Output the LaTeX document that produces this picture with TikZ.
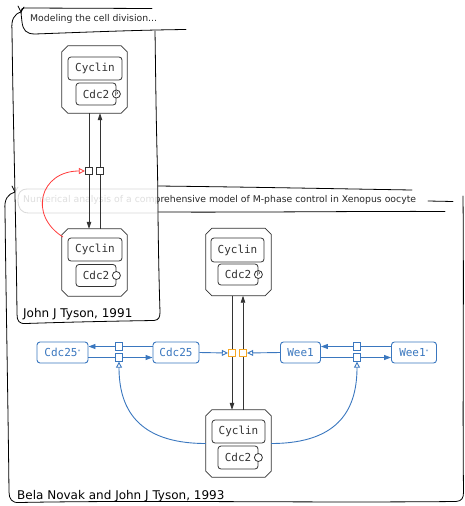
\documentclass[tikz,border=0pt]{standalone}
\usepackage{fontspec}
\setmainfont{DejaVu Sans}
\setmonofont{DejaVu Sans Mono}
\usetikzlibrary{arrows.meta}

\definecolor{inkgray}{HTML}{333333}
\definecolor{sbgnblue}{HTML}{3A77BF}
\definecolor{sbgnorange}{HTML}{F5A623}
\definecolor{sbgnred}{HTML}{FF3B3B}

\tikzset{
  sketch/.style={draw=black, line width=0.8pt, line cap=round, line join=round},
  complexbox/.style={rectangle, draw=none, minimum width=65pt, minimum height=67pt,
    inner sep=0pt},
  complexline/.style={draw=inkgray, line width=0.8pt, fill=white},
  protein/.style={rectangle, rounded corners=3pt, draw=inkgray, line width=0.8pt,
    fill=white, text=inkgray, inner sep=0pt,
    font=\ttfamily\fontsize{11}{12}\selectfont},
  statemark/.style={circle, draw=inkgray, line width=0.8pt, fill=white,
    inner sep=0pt, minimum size=8pt, text=inkgray, font=\fontsize{6}{6}\selectfont},
  procsq/.style={rectangle, draw=inkgray, line width=0.8pt, fill=white,
    minimum size=7.5pt, inner sep=0pt},
  bluenode/.style={rectangle, rounded corners=3pt, draw=sbgnblue, line width=0.9pt,
    fill=white, text=sbgnblue, inner sep=0pt, minimum height=21pt,
    font=\ttfamily\fontsize{11}{12}\selectfont},
  bluesq/.style={procsq, draw=sbgnblue},
  orangesq/.style={procsq, draw=sbgnorange},
  conv/.style={draw=inkgray, line width=0.8pt},
  convarrow/.style={conv, -{Triangle[length=7pt,width=4.5pt]}},
  bconv/.style={draw=sbgnblue, line width=0.9pt},
  bconvarrow/.style={bconv, -{Triangle[length=7pt,width=5pt]}},
  bmod/.style={bconv, -{Triangle[open,length=6pt,width=6pt,fill=white]}},
  rmod/.style={draw=sbgnred, line width=0.8pt, -{Triangle[open,length=6pt,width=6pt,fill=white]}},
  titletext/.style={anchor=west, inner sep=0pt, text=black!85,
    font=\fontsize{9.3}{11}\selectfont},
  authortext/.style={anchor=base west, inner sep=0pt, text=black,
    font=\fontsize{12}{14}\selectfont},
}

% octagonal outline of a complex node
\newcommand\complexoutline[1]{%
  \filldraw[complexline]
    ([xshift=6pt]#1.north west) -- ([xshift=-6pt]#1.north east)
    -- ([yshift=-6pt]#1.north east) -- ([yshift=6pt]#1.south east)
    -- ([xshift=-6pt]#1.south east) -- ([xshift=6pt]#1.south west)
    -- ([yshift=6pt]#1.south west) -- ([yshift=-6pt]#1.north west) -- cycle;}

\begin{document}
\begin{tikzpicture}[x=1pt,y=-1pt]
\useasboundingbox (0,0) rectangle (465,506);

% ---------- frame of the 1993 model ----------
\draw[sketch] (157,186) .. controls (250,187) and (350,189) .. (412,190);
\draw[sketch] (157,212) .. controls (260,212.5) and (380,211) .. (445,211.5);
\draw[sketch] (428,201) -- (453,201.5);
\draw[sketch] (157,189) -- (28,189) .. controls (20,189) and (18,193) .. (18,200)
  .. controls (18,208) and (21,213) .. (29,213) -- (157,213);
\node[titletext] (title2) at (23,200)
  {Numerical analysis of a comprehensive model of M-phase control in Xenopus oocyte};
\draw[sketch] (15,192) .. controls (8,194) and (4,199) .. (5,210)
  .. controls (6,300) and (8,400) .. (9,492)
  .. controls (9,499) and (12,503) .. (19,502.5)
  .. controls (150,500) and (300,503) .. (456,501.5)
  .. controls (462,501) and (463.5,498) .. (463.5,492)
  .. controls (462.5,400) and (464,300) .. (463,196);
\draw[sketch] (12,186) -- (15,192) -- (18,187);

% veil of the 1991 frame over the title above
\fill[white, opacity=0.85] (13,35) -- (157,31) -- (159,320) -- (17,322) -- cycle;

% ---------- frame of the 1991 model ----------
\draw[sketch] (152,8.5) -- (24,8) .. controls (20,8) and (21,13) .. (22,22)
  .. controls (23,30) and (26,34) .. (35,34)
  .. controls (90,32) and (140,30) .. (186,29.5);
\node[titletext] (title1) at (30,18.5) {Modeling the cell division...};
\draw[sketch] (21,12) .. controls (14,14) and (11,20) .. (12,30)
  .. controls (13,120) and (16,220) .. (17,314)
  .. controls (17,321) and (19,324) .. (26,323.5)
  .. controls (70,322) and (120,321) .. (154,320.5)
  .. controls (159,320) and (160,317) .. (160,312)
  .. controls (158,250) and (158,200) .. (157.5,170)
  .. controls (156,120) and (155.5,60) .. (155,31);
\draw[sketch] (18,6) -- (21,12) -- (24,7);
\node[authortext] (author1) at (23,317) {John J Tyson, 1991};

% complexes of the 1991 model
\node[complexbox] (cxA) at (94.5,79.5) {};
\complexoutline{cxA}
\node[protein, minimum width=54pt, minimum height=23pt] (cyclA) at (95,68.5) {Cyclin};
\node[protein, minimum width=40pt, minimum height=22pt] (cdcA) at (96,94) {Cdc2};
\node[statemark] (phA) at (cdcA.east) {P};

\node[complexbox] (cxB) at (94.5,262.5) {};
\complexoutline{cxB}
\node[protein, minimum width=54pt, minimum height=23pt] (cyclB) at (95,249.5) {Cyclin};
\node[protein, minimum width=40pt, minimum height=22pt] (cdcB) at (96,275.5) {Cdc2};
\node[statemark] (stB) at (cdcB.east) {};

\node[procsq] (sA1) at (89,171) {};
\node[procsq] (sA2) at (100,171) {};

\draw[conv] (sA1 |- cxA.south) -- (sA1.north);
\draw[convarrow] (sA1.south) -- (sA1 |- cxB.north);
\draw[conv] (sA2 |- cxB.north) -- (sA2.south);
\draw[convarrow] (sA2.north) -- (sA2 |- cxA.south);

\coordinate (redstart) at (63,237);
\draw[rmod] (redstart) .. controls (28,215) and (40,171) .. (sA1.west);

% ---------- 1993 model ----------
\node[authortext] (author2) at (17,499) {Bela Novak and John J Tyson, 1993};

\node[complexbox] (cxC) at (238.5,262) {};
\complexoutline{cxC}
\node[protein, minimum width=53pt, minimum height=24pt] (cyclC) at (237.5,250) {Cyclin};
\node[protein, minimum width=40pt, minimum height=21pt] (cdcC) at (238,274.5) {Cdc2};
\node[statemark] (phC) at (cdcC.east) {P};

\node[complexbox] (cxD) at (238.5,443.5) {};
\complexoutline{cxD}
\node[protein, minimum width=53pt, minimum height=23pt] (cyclD) at (238.5,431.5) {Cyclin};
\node[protein, minimum width=40pt, minimum height=23pt] (cdcD) at (238,457.5) {Cdc2};
\node[statemark] (stD) at (cdcD.east) {};

\node[orangesq] (oL) at (232,353) {};
\node[orangesq] (oR) at (243,353) {};

\draw[conv] (oL |- cxC.south) -- (oL.north);
\draw[convarrow] (oL.south) -- (oL |- cxD.north);
\draw[conv] (oR |- cxD.north) -- (oR.south);
\draw[convarrow] (oR.north) -- (oR |- cxC.south);

\node[bluenode, minimum width=51pt] (cdc25s) at (62.5,352.5)
  {Cdc25\raisebox{3pt}{\fontsize{5}{5}\selectfont *}};
\node[bluenode, minimum width=46pt] (cdc25) at (176,352.5) {Cdc25};
\node[bluenode, minimum width=40pt] (wee1) at (300.5,352.5) {Wee1};
\node[bluenode, minimum width=45pt] (wee1s) at (414,352.5)
  {Wee1\raisebox{3pt}{\fontsize{5}{5}\selectfont *}};

\node[bluesq] (bL1) at (119,346.5) {};
\node[bluesq] (bL2) at (119,357.5) {};
\node[bluesq] (bR1) at (357,346.5) {};
\node[bluesq] (bR2) at (357,357.5) {};

\draw[bconv] (cdc25.west |- bL1) -- (bL1.east);
\draw[bconvarrow] (bL1.west) -- (cdc25s.east |- bL1);
\draw[bconv] (cdc25s.east |- bL2) -- (bL2.west);
\draw[bconvarrow] (bL2.east) -- (cdc25.west |- bL2);

\draw[bconv] (wee1s.west |- bR1) -- (bR1.east);
\draw[bconvarrow] (bR1.west) -- (wee1.east |- bR1);
\draw[bconv] (wee1.east |- bR2) -- (bR2.west);
\draw[bconvarrow] (bR2.east) -- (wee1s.west |- bR2);

\draw[bmod] (cdc25.east) -- (oL.west);
\draw[bmod] (wee1.west) -- (oR.east);

\draw[bmod] (cxD.west) .. controls +(-70,0) and +(0,45) .. (bL2.south);
\draw[bmod] (cxD.east) .. controls +(70,0) and +(0,45) .. (bR2.south);

\end{tikzpicture}
\end{document}
